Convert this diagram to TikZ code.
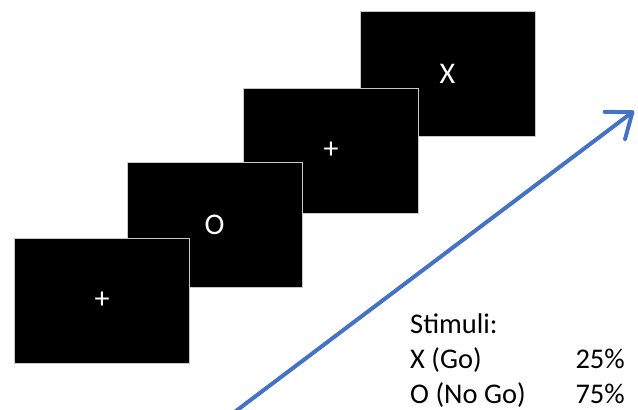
\documentclass[tikz,border=0pt]{standalone}
\usepackage{fontspec}
\setmainfont{Carlito}
\usetikzlibrary{arrows.meta}
\definecolor{arrowblue}{RGB}{68,114,196}
\definecolor{frame}{RGB}{200,200,200}
\begin{document}
\begin{tikzpicture}[x=1pt,y=-1pt,
  screen/.style={draw=frame, line width=1pt, fill=black, text=white,
    minimum width=175pt, minimum height=125pt, inner sep=0pt,
    font=\fontsize{30}{30}\selectfont},
  info/.style={inner sep=0pt, font=\fontsize{28.5}{34}\selectfont}]
\useasboundingbox (0,0) rectangle (638,410);
% stimulus screens, back to front
\node[screen] (s4) at (447.5,73.5) {\raisebox{-2.5pt}{X}};
\node[screen] (s3) at (331,150.5) {\raisebox{-1pt}{+}};
\node[screen] (s2) at (214.5,225) {\raisebox{-2.5pt}{O}};
\node[screen] (s1) at (102,300.5) {+};
% time arrow
\coordinate (tstart) at (226,418.5);
\coordinate (tend) at (634,111);
\begin{scope}
\clip (0,0) rectangle (638,410);
\draw[arrowblue, line width=4pt, line cap=round,
  -{Straight Barb[length=22pt, width=34pt, round]}] (tstart) -- (tend);
\end{scope}
% stimulus proportions
\node[info, anchor=base west] (lab) at (410,333) {Stimuli:};
\node[info, anchor=base west] (go) at (410,368) {X (Go)};
\node[info, anchor=base west] (nogo) at (410,403) {O (No Go)};
\node[info, anchor=base east] (gop) at (625,368) {25\%};
\node[info, anchor=base east] (nogop) at (625,403) {75\%};
\end{tikzpicture}
\end{document}
